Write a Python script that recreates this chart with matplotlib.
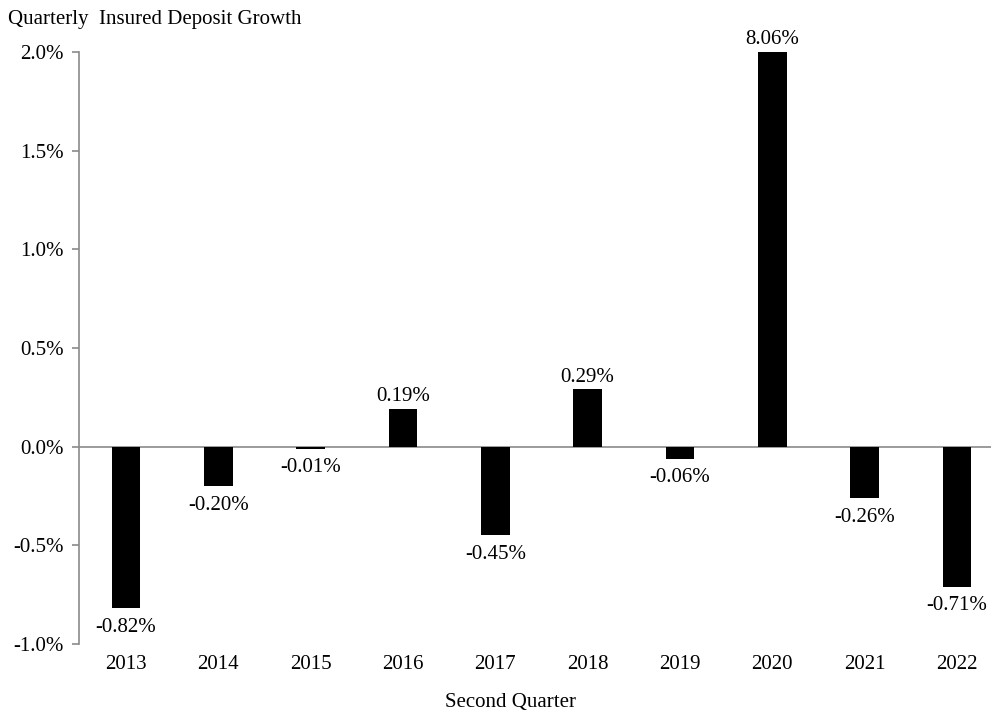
import matplotlib
matplotlib.use("Agg")
import matplotlib.pyplot as plt

years = ["2013", "2014", "2015", "2016", "2017", "2018", "2019", "2020", "2021", "2022"]
growth = [-0.82, -0.20, -0.01, 0.19, -0.45, 0.29, -0.06, 8.06, -0.26, -0.71]
yticks = [-1.0, -0.5, 0.0, 0.5, 1.0, 1.5, 2.0]

plt.rcParams['font.family'] = ['Liberation Serif', 'DejaVu Serif']
FS = 15

fig = plt.figure(figsize=(9.91, 7.12), dpi=100)
ax = fig.add_axes([79/991, 1-644/712, 1-79/991, (644-52)/712])

x = list(range(len(years)))
ymax = 2.0
ax.bar(x, [min(v, ymax) for v in growth], width=0.31, color='black', zorder=3)
ax.axhline(0, color='#8a8a8a', lw=1.2, zorder=2)

for xi, v in zip(x, growth):
    shown = min(v, ymax)
    if v >= 0:
        ax.annotate(f"{v:.2f}%", (xi, shown), xytext=(0, 2), textcoords='offset points',
                    ha='center', va='bottom', fontsize=FS, annotation_clip=False)
    else:
        ax.annotate(f"{v:.2f}%", (xi, shown), xytext=(0, -7), textcoords='offset points',
                    ha='center', va='top', fontsize=FS, annotation_clip=False)

ax.set_xlim(-0.51, 9.37)
ax.set_ylim(-1.0, 2.0)
ax.set_yticks(yticks)
ax.set_yticklabels([f"{t:.1f}%" for t in yticks], fontsize=FS)
ax.set_xticks(x)
ax.set_xticklabels(years, fontsize=FS)
ax.tick_params(axis='x', length=0, pad=8)
ax.tick_params(axis='y', length=5, width=1.2, color='#8a8a8a', pad=6, direction='out')
for s in ['top', 'right', 'bottom']:
    ax.spines[s].set_visible(False)
ax.spines['left'].set_color('#8a8a8a')
ax.spines['left'].set_linewidth(1.2)

fig.text(8/991, 1-10/712, "Quarterly  Insured Deposit Growth", fontsize=FS, ha='left', va='top')
fig.text(511/991, 1-702/712, "Second Quarter", fontsize=FS, ha='center', va='center')

fig.savefig("out.png", dpi=100)
